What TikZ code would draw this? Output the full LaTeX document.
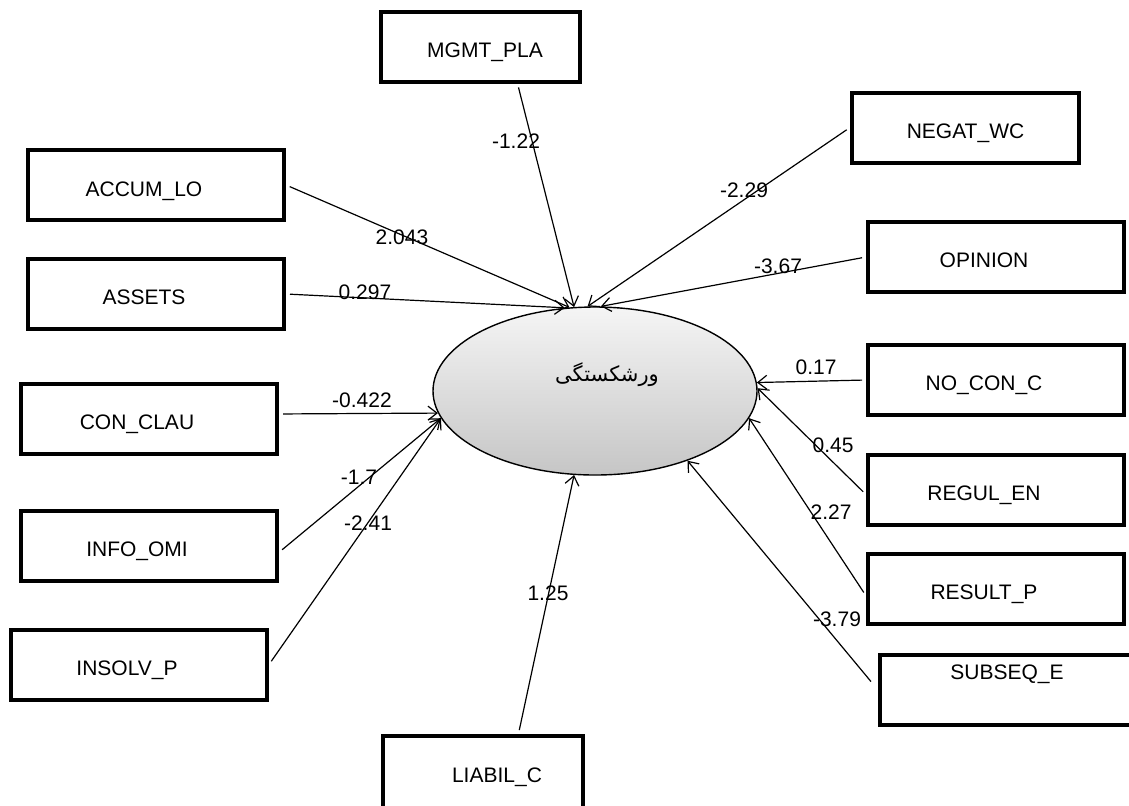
\documentclass[tikz,border=0pt]{standalone}
\usepackage{fontspec}
\setmainfont{Liberation Sans}
\newfontfamily\persianfont[Script=Arabic]{DejaVu Sans}
\TeXXeTstate=1
\usetikzlibrary{shapes.geometric,arrows.meta}
\tikzset{
  nudge/.store in=\boxnudge, nudge=0pt,
  var/.style={draw=black, line width=2pt, minimum width=128pt, minimum height=35pt, inner sep=0pt,
    text height=12pt, text depth=1.5pt, nudge=-12pt, execute at begin node={\hspace*{\boxnudge}},
    font=\fontsize{10.5}{12}\selectfont},
  coef/.style={inner sep=0pt, font=\fontsize{10.5}{12}\selectfont},
  link/.style={-{Straight Barb[length=4.5pt,width=7pt]}, line width=0.6pt, shorten <=2pt},
}
\begin{document}
\begin{tikzpicture}[x=0.5pt,y=-0.5pt]
    \clip (0,0) rectangle (1129,805);
    % insert latent variable
    \node[ellipse, draw=black, line width=0.7pt, top color=gray!8, bottom color=gray!45, minimum width=162pt, minimum height=84pt] (bank) at (595,391) {};
    \node[font=\persianfont\fontsize{10.5}{12}\selectfont] (banktxt) at (607,375) {\beginR ورشکستگی\endR};

    % insert indicators
    \node[var, minimum width=99.5pt, nudge=4.5pt] (mgmt) at (480.5,46.5) {MGMT\_PLA};
    \node[var, minimum width=113.5pt, nudge=0pt] (negat) at (965.5,127.5) {NEGAT\_WC};
    \node[var, text height=13pt] (accum) at (156,185) {ACCUM\_LO};
    \node[var] (assets) at (156,294) {ASSETS};
    \node[var] (opinion) at (996,257) {OPINION};
    \node[var] (conclau) at (149,418.5) {CON\_CLAU};
    \node[var] (nocon) at (996,380) {NO\_CON\_C};
    \node[var] (infoomi) at (149,545.5) {INFO\_OMI};
    \node[var] (regul) at (996,490) {REGUL\_EN};
    \node[var] (result) at (996,589) {RESULT\_P};
    \node[var] (insolv) at (139,664.5) {INSOLV\_P};
    \node[var, minimum width=130pt, text depth=22.5pt, nudge=-3pt] (subseq) at (1010,690) {SUBSEQ\_E};
    \node[var, minimum width=100pt, minimum height=36pt, nudge=14pt] (liabil) at (483,772) {LIABIL\_C};

    % insert links
    \draw[link] (mgmt.-45) -- (bank.104.5);
    \draw[link] (negat.west) -- (bank.95);
    \draw[link] (accum.east) -- (bank.107.5);
    \draw[link] (assets.east) -- (bank.110);
    \draw[link] (opinion.west) -- (bank.86.5);
    \draw[link] (conclau.2) -- (bank.188);
    \draw[link] (infoomi.-3) -- (bank.190);
    \draw[link] (insolv.east) -- (bank.190.5);
    \draw[link] (liabil.47) -- (bank.256);
    \draw[link] (nocon.west) -- (bank.3.5);
    \draw[link] (regul.182) -- (bank.1.5);
    \draw[link] (result.183) -- (bank.350);
    \draw[link, shorten <=5.5pt] (subseq.west) -- (bank.323);

    % insert coefficients
    \node[coef] (cmgmt) at (516,141) {-1.22};
    \node[coef] (cnegat) at (744,190) {-2.29};
    \node[coef] (caccum) at (402,237) {2.043};
    \node[coef] (cassets) at (365,292) {0.297};
    \node[coef] (copinion) at (778,266) {-3.67};
    \node[coef] (cconclau) at (362,400) {-0.422};
    \node[coef] (cinfoomi) at (359,477) {-1.7};
    \node[coef] (cinsolv) at (368,523) {-2.41};
    \node[coef] (cliabil) at (548,593) {1.25};
    \node[coef] (cnocon) at (816,367) {0.17};
    \node[coef] (cregul) at (833,445) {0.45};
    \node[coef] (cresult) at (831,512) {2.27};
    \node[coef] (csubseq) at (837,619.5) {-3.79};
\end{tikzpicture}
\end{document}
